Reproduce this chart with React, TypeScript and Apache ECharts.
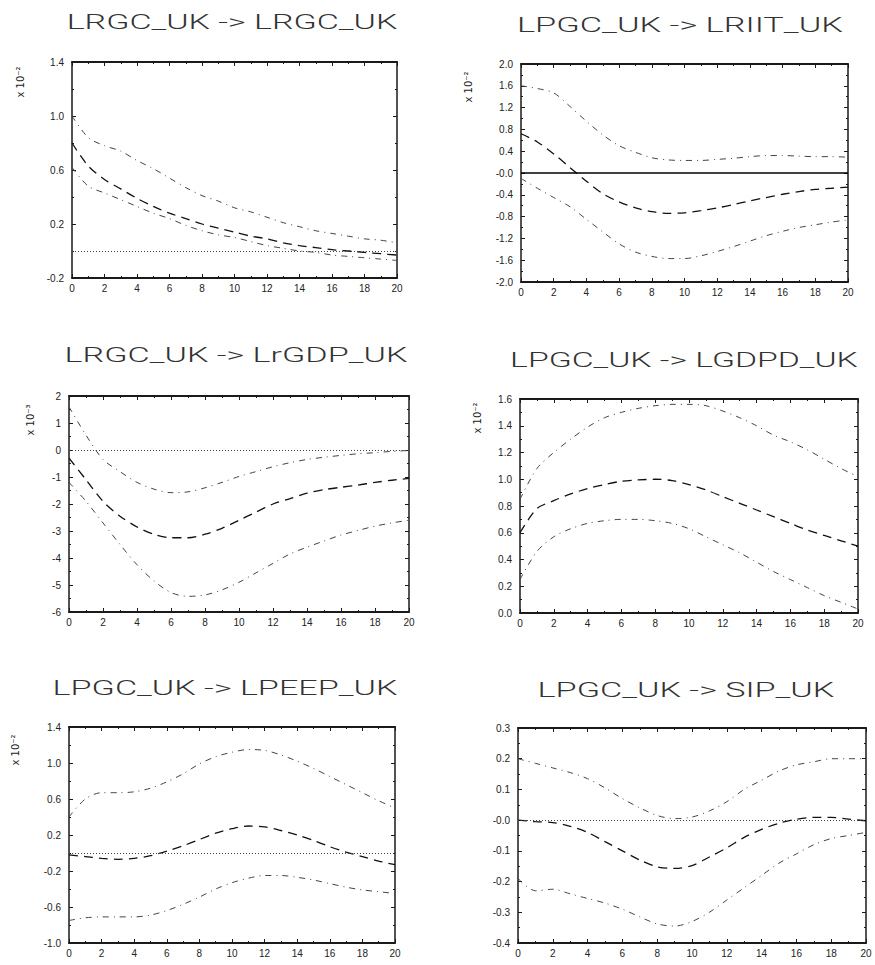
import React, { useEffect, useRef } from "react";
import * as echarts from "echarts";

const steps = [0, 1, 2, 3, 4, 5, 6, 7, 8, 9, 10, 11, 12, 13, 14, 15, 16, 17, 18, 19, 20];
const xTicks = [0, 2, 4, 6, 8, 10, 12, 14, 16, 18, 20];

const titles = [
  "LRGC_UK -> LRGC_UK",
  "LPGC_UK -> LRIIT_UK",
  "LRGC_UK -> LrGDP_UK",
  "LPGC_UK -> LGDPD_UK",
  "LPGC_UK -> LPEEP_UK",
  "LPGC_UK -> SIP_UK",
];
const unitLabels = ["x 10⁻²", "x 10⁻²", "x 10⁻³", "x 10⁻²", "x 10⁻²", ""];

const yMins = [-0.2, -2.0, -6, 0.0, -1.0, -0.4];
const yMaxs = [1.4, 2.0, 2, 1.6, 1.4, 0.3];
const yIntervals = [0.4, 0.4, 1, 0.2, 0.4, 0.1];
const yDecimals = [1, 1, 0, 1, 1, 1];
const zeroTickLabels = ["0.0", "-0.0", "0", "0.0", "0.0", "-0.0"];

// Panel 1: LRGC_UK -> LRGC_UK
const p1Upper = [1.0, 0.84, 0.78, 0.74, 0.67, 0.61, 0.54, 0.47, 0.41, 0.37, 0.32, 0.29, 0.25, 0.21, 0.18, 0.15, 0.13, 0.11, 0.09, 0.08, 0.06];
const p1Center = [0.8, 0.63, 0.53, 0.46, 0.39, 0.33, 0.28, 0.24, 0.2, 0.17, 0.14, 0.11, 0.09, 0.06, 0.04, 0.025, 0.01, 0.0, -0.01, -0.02, -0.03];
const p1Lower = [0.62, 0.48, 0.43, 0.38, 0.33, 0.28, 0.24, 0.19, 0.15, 0.12, 0.1, 0.07, 0.04, 0.02, 0.0, -0.01, -0.03, -0.04, -0.05, -0.06, -0.07];

// Panel 2: LPGC_UK -> LRIIT_UK
const p2Upper = [1.6, 1.55, 1.47, 1.22, 0.95, 0.7, 0.5, 0.38, 0.28, 0.24, 0.23, 0.23, 0.25, 0.27, 0.3, 0.32, 0.32, 0.31, 0.3, 0.3, 0.29];
const p2Center = [0.72, 0.57, 0.35, 0.1, -0.15, -0.38, -0.53, -0.64, -0.71, -0.74, -0.73, -0.69, -0.64, -0.58, -0.51, -0.45, -0.39, -0.34, -0.3, -0.28, -0.26];
const p2Lower = [-0.1, -0.28, -0.45, -0.62, -0.85, -1.08, -1.3, -1.45, -1.53, -1.57, -1.57, -1.52, -1.44, -1.35, -1.25, -1.15, -1.07, -1.0, -0.95, -0.9, -0.86];

// Panel 3: LRGC_UK -> LrGDP_UK
const p3Upper = [1.6, 0.55, -0.35, -0.8, -1.2, -1.45, -1.58, -1.55, -1.4, -1.2, -0.98, -0.8, -0.62, -0.47, -0.35, -0.27, -0.2, -0.14, -0.1, -0.05, -0.02];
const p3Center = [-0.3, -1.1, -1.9, -2.45, -2.85, -3.12, -3.25, -3.25, -3.12, -2.9, -2.6, -2.3, -2.0, -1.8, -1.6, -1.47, -1.38, -1.3, -1.2, -1.12, -1.05];
const p3Lower = [-1.2, -1.9, -2.7, -3.5, -4.25, -4.85, -5.28, -5.42, -5.37, -5.18, -4.9, -4.55, -4.2, -3.85, -3.6, -3.37, -3.15, -2.98, -2.82, -2.7, -2.6];

// Panel 4: LPGC_UK -> LGDPD_UK
const p4Upper = [0.85, 1.08, 1.2, 1.3, 1.39, 1.46, 1.5, 1.53, 1.55, 1.56, 1.56, 1.55, 1.51, 1.46, 1.4, 1.33, 1.28, 1.22, 1.15, 1.08, 1.02];
const p4Center = [0.6, 0.78, 0.84, 0.89, 0.93, 0.96, 0.985, 0.995, 1.0, 0.99, 0.96, 0.92, 0.87, 0.82, 0.77, 0.72, 0.67, 0.62, 0.58, 0.54, 0.5];
const p4Lower = [0.25, 0.46, 0.57, 0.63, 0.67, 0.69, 0.7, 0.7, 0.69, 0.67, 0.63, 0.57, 0.51, 0.45, 0.38, 0.31, 0.25, 0.19, 0.13, 0.08, 0.03];

// Panel 5: LPGC_UK -> LPEEP_UK
const p5Upper = [0.4, 0.6, 0.67, 0.67, 0.68, 0.72, 0.79, 0.88, 0.99, 1.07, 1.12, 1.15, 1.14, 1.09, 1.02, 0.94, 0.85, 0.76, 0.67, 0.58, 0.5];
const p5Center = [-0.02, -0.04, -0.06, -0.07, -0.06, -0.03, 0.02, 0.08, 0.15, 0.22, 0.27, 0.3, 0.29, 0.25, 0.2, 0.14, 0.07, 0.01, -0.04, -0.09, -0.13];
const p5Lower = [-0.75, -0.72, -0.71, -0.71, -0.71, -0.69, -0.64, -0.57, -0.49, -0.4, -0.33, -0.28, -0.25, -0.25, -0.27, -0.3, -0.34, -0.38, -0.41, -0.43, -0.45];

// Panel 6: LPGC_UK -> SIP_UK
const p6Upper = [0.2, 0.185, 0.17, 0.155, 0.135, 0.105, 0.07, 0.04, 0.015, 0.005, 0.01, 0.03, 0.06, 0.1, 0.13, 0.16, 0.18, 0.19, 0.2, 0.2, 0.2];
const p6Center = [0.0, -0.005, -0.008, -0.02, -0.04, -0.07, -0.1, -0.13, -0.152, -0.157, -0.148, -0.12, -0.09, -0.056, -0.03, -0.01, 0.003, 0.009, 0.009, 0.003, -0.002];
const p6Lower = [-0.19, -0.23, -0.225, -0.24, -0.255, -0.27, -0.29, -0.315, -0.338, -0.345, -0.33, -0.3, -0.26, -0.22, -0.18, -0.14, -0.11, -0.08, -0.06, -0.05, -0.04];

const bands = [
  [p1Upper, p1Center, p1Lower],
  [p2Upper, p2Center, p2Lower],
  [p3Upper, p3Center, p3Lower],
  [p4Upper, p4Center, p4Lower],
  [p5Upper, p5Center, p5Lower],
  [p6Upper, p6Center, p6Lower],
];

// layout (pixels)
const layout = [
  { left: 72, top: 62, width: 325, height: 216, tx: 232, ty: 22, tw: 331, ux: 20, uy: 82, zero: "dotted" },
  { left: 521, top: 64, width: 327, height: 218, tx: 680, ty: 25, tw: 326, ux: 468, uy: 87, zero: "solid" },
  { left: 69, top: 396, width: 340, height: 216, tx: 236, ty: 355, tw: 343, ux: 30, uy: 420, zero: "dotted" },
  { left: 520, top: 399, width: 338, height: 214, tx: 684, ty: 360, tw: 348, ux: 477, uy: 418, zero: "none" },
  { left: 69, top: 727, width: 326, height: 216, tx: 225, ty: 688, tw: 345, ux: 15, uy: 750, zero: "dotted" },
  { left: 518, top: 728, width: 348, height: 215, tx: 686, ty: 690, tw: 297, ux: 0, uy: 0, zero: "dotted" },
];

const INK = "#1a1a1a";
const FONT = "Liberation Sans";
const TITLE_FONT = "Roboto";
const TITLE_WEIGHT = 300;
const TITLE_SIZE = 21;

export default function App() {
  const ref = useRef<HTMLDivElement>(null);

  useEffect(() => {
    if (!ref.current) return;
    const chart = echarts.init(ref.current, null, { renderer: "svg" });

    const canvas = document.createElement("canvas");
    const ctx = canvas.getContext("2d");
    const measure = (t: string) => {
      if (!ctx) return t.length * 12;
      ctx.font = `${TITLE_WEIGHT} ${TITLE_SIZE}px "${TITLE_FONT}"`;
      return ctx.measureText(t).width;
    };

    const grids: any[] = [];
    const xAxes: any[] = [];
    const yAxes: any[] = [];
    const series: any[] = [];
    const graphics: any[] = [];

    layout.forEach((L, i) => {
      grids.push({ left: L.left, top: L.top, width: L.width, height: L.height, containLabel: false });
      const xCommon = {
        type: "value",
        gridIndex: i,
        min: 0,
        max: 20,
        interval: 2,
        splitLine: { show: false },
        axisLine: { show: true, onZero: false, lineStyle: { color: INK, width: 2 } },
        axisTick: { show: true, inside: true, length: 4, lineStyle: { color: INK, width: 1 } },
        minorTick: { show: true, splitNumber: 2, length: 2, lineStyle: { color: INK } },
      };
      xAxes.push({
        ...xCommon,
        position: "bottom",
        axisLabel: {
          show: true,
          margin: 5,
          color: "#222",
          fontSize: 10,
          fontFamily: FONT,
          formatter: (v: number) => (xTicks.includes(Math.round(v)) ? String(Math.round(v)) : ""),
        },
      });
      xAxes.push({ ...xCommon, position: "top", axisLabel: { show: false } });

      const yCommon = {
        type: "value",
        gridIndex: i,
        min: yMins[i],
        max: yMaxs[i],
        interval: yIntervals[i],
        splitLine: { show: false },
        axisLine: { show: true, onZero: false, lineStyle: { color: INK, width: 1.5 } },
        axisTick: { show: true, inside: true, length: 4, lineStyle: { color: INK, width: 1 } },
        minorTick: { show: true, splitNumber: 2, length: 2, lineStyle: { color: INK } },
      };
      yAxes.push({
        ...yCommon,
        position: "left",
        axisLabel: {
          show: true,
          margin: 8,
          color: "#222",
          fontSize: 10,
          fontFamily: FONT,
          formatter: (v: number) => {
            if (Math.abs(v) < 1e-9) return zeroTickLabels[i];
            return v.toFixed(yDecimals[i]);
          },
        },
      });
      yAxes.push({ ...yCommon, position: "right", axisLabel: { show: false } });

      const [up, mid, lo] = bands[i];
      const toPts = (arr: number[]) => steps.map((s, j) => [s, arr[j]]);
      series.push({
        type: "line",
        xAxisIndex: 2 * i,
        yAxisIndex: 2 * i,
        data: toPts(up),
        showSymbol: false,
        smooth: 0.3,
        lineStyle: { color: "#444", width: 1, type: [6, 5, 1, 5] },
        silent: true,
      });
      const centerSeries: any = {
        type: "line",
        xAxisIndex: 2 * i,
        yAxisIndex: 2 * i,
        data: toPts(mid),
        showSymbol: false,
        smooth: 0.3,
        lineStyle: { color: "#111", width: 1.3, type: [9, 6] },
        silent: true,
      };
      if (L.zero !== "none") {
        centerSeries.markLine = {
          silent: true,
          symbol: "none",
          label: { show: false },
          data: [{ yAxis: 0 }],
          lineStyle:
            L.zero === "solid"
              ? { color: "#000", width: 1.5, type: "solid" }
              : { color: "#444", width: 1, type: [1, 2] },
        };
      }
      series.push(centerSeries);
      series.push({
        type: "line",
        xAxisIndex: 2 * i,
        yAxisIndex: 2 * i,
        data: toPts(lo),
        showSymbol: false,
        smooth: 0.3,
        lineStyle: { color: "#444", width: 1, type: [6, 5, 1, 5] },
        silent: true,
      });

      const w = measure(titles[i]);
      graphics.push({
        type: "text",
        x: L.tx,
        y: L.ty,
        scaleX: w > 0 ? L.tw / w : 1.5,
        silent: true,
        style: {
          text: titles[i],
          fill: "#333",
          fontSize: TITLE_SIZE,
          fontFamily: TITLE_FONT,
          fontWeight: TITLE_WEIGHT,
          textAlign: "center",
          textVerticalAlign: "middle",
          verticalAlign: "middle",
        },
      });
      if (unitLabels[i]) {
        graphics.push({
          type: "text",
          x: L.ux,
          y: L.uy,
          rotation: Math.PI / 2,
          silent: true,
          style: {
            text: unitLabels[i],
            fill: "#222",
            fontSize: 10,
            fontFamily: "DejaVu Sans",
            textAlign: "center",
            textVerticalAlign: "middle",
            verticalAlign: "middle",
          },
        });
      }
    });

    chart.setOption({
      animation: false,
      backgroundColor: "#fff",
      grid: grids,
      xAxis: xAxes,
      yAxis: yAxes,
      series,
      graphic: graphics,
    });

    return () => chart.dispose();
  }, []);

  return (
    <div
      ref={ref}
      style={{ position: "absolute", left: 0, top: 0, width: 875, height: 965, background: "#fff" }}
    />
  );
}
